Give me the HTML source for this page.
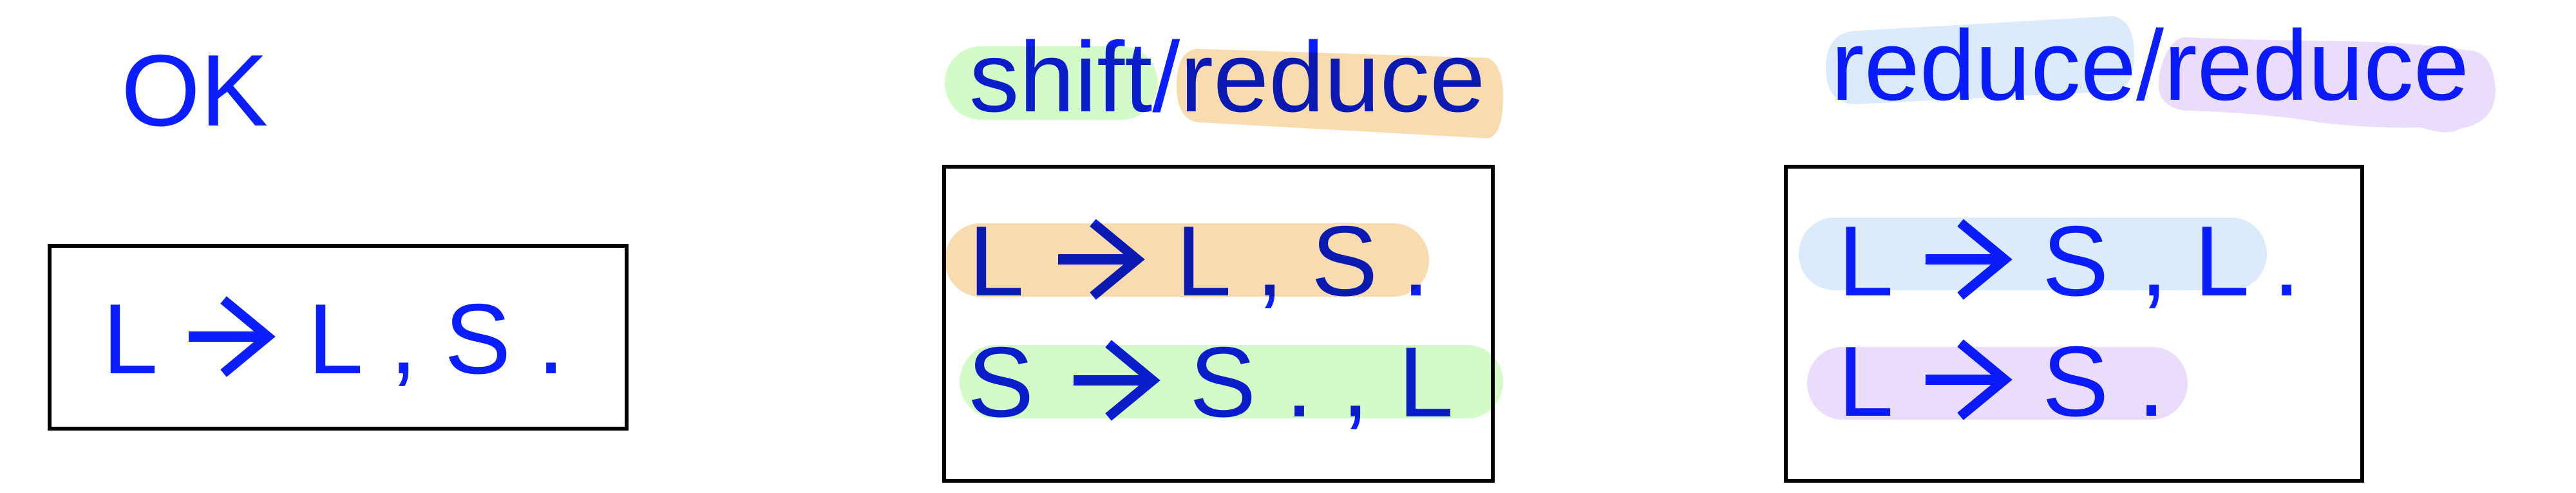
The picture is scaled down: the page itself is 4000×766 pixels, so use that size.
<!DOCTYPE html>
<html><head><meta charset="utf-8"><style>
html,body{margin:0;padding:0;background:#fff;}
svg{display:block}
text{font-family:"Liberation Sans",sans-serif;font-size:155px;fill:#0a1eff;}
.hl{mix-blend-mode:multiply}
</style></head><body>
<svg width="4000" height="766" viewBox="0 0 4000 766" xmlns="http://www.w3.org/2000/svg">
<defs>
<g id="arr">
  <rect x="0" y="-8" width="112" height="16" fill="#0a1eff"/>
  <polyline points="54,-57 123,0 54,57" fill="none" stroke="#0a1eff" stroke-width="15" stroke-miterlimit="10"/>
</g>
</defs>
<rect width="4000" height="766" fill="#fff"/>

<!-- boxes -->
<rect x="77" y="382" width="896" height="284" fill="none" stroke="#000" stroke-width="6"/>
<rect x="1466" y="259" width="852" height="488" fill="none" stroke="#000" stroke-width="6"/>
<rect x="2773" y="259" width="895" height="488" fill="none" stroke="#000" stroke-width="6"/>

<!-- OK -->
<text x="188" y="195" font-size="158" style="font-size:158px">OK</text>

<!-- left box -->
<text x="159" y="580">L</text>
<use href="#arr" x="293" y="523"/>
<text x="478" y="580">L</text>
<text x="605" y="580">,</text>
<text x="690" y="580">S</text>
<text x="834" y="580">.</text>

<!-- middle title -->
<text x="1505" y="173">shift/reduce</text>

<!-- middle rows -->
<text x="1504" y="459">L</text>
<use href="#arr" x="1643" y="403"/>
<text x="1826" y="459">L</text>
<text x="1950" y="459">,</text>
<text x="2036" y="459">S</text>
<text x="2177" y="459">.</text>

<text x="1502" y="647">S</text>
<use href="#arr" x="1667" y="591"/>
<text x="1847" y="647">S</text>
<text x="1996" y="647">.</text>
<text x="2083" y="647">,</text>
<text x="2171" y="647">L</text>

<!-- right title -->
<text x="2843" y="155">reduce/reduce</text>

<!-- right rows -->
<text x="2854" y="459">L</text>
<use href="#arr" x="2990" y="403"/>
<text x="3171" y="459">S</text>
<text x="3323" y="459">,</text>
<text x="3407" y="459">L</text>
<text x="3529" y="459">.</text>

<text x="2854" y="646">L</text>
<use href="#arr" x="2990" y="590"/>
<text x="3171" y="646">S</text>
<text x="3319" y="646">.</text>

<!-- highlights -->
<g class="hl">
  <rect x="1467" y="72" width="331" height="114" rx="55" ry="57" fill="#d4fac8"/>
  <path d="M1860,76 L2310,90 Q2334,100 2334,150 Q2334,210 2310,215 L1860,190 Q1827,185 1827,133 Q1827,78 1860,76 Z" fill="#f8dcb0"/>
  <rect x="1467" y="347" width="752" height="114" rx="55" ry="57" fill="#f8dcb0"/>
  <rect x="1490" y="536" width="844" height="114" rx="55" ry="57" fill="#d4fac8"/>

  <path d="M2880,48 L3280,25 Q3314,30 3314,85 Q3314,140 3280,142 L2880,162 Q2835,160 2835,105 Q2835,52 2880,48 Z" fill="#dcebfb"/>
  <path d="M3395,58 Q3380,56 3365,80 Q3350,110 3352,140 Q3360,171 3400,172 Q3520,176 3600,190 Q3680,200 3760,198 Q3800,212 3820,200 Q3875,190 3875,140 Q3872,90 3845,80 Q3760,66 3640,64 Q3480,62 3395,58 Z" fill="#eadcfb"/>
  <rect x="2793" y="338" width="727" height="113" rx="55" ry="57" fill="#dcebfb"/>
  <rect x="2806" y="539" width="591" height="113" rx="55" ry="57" fill="#eadcfb"/>
</g>
</svg>
</body></html>
